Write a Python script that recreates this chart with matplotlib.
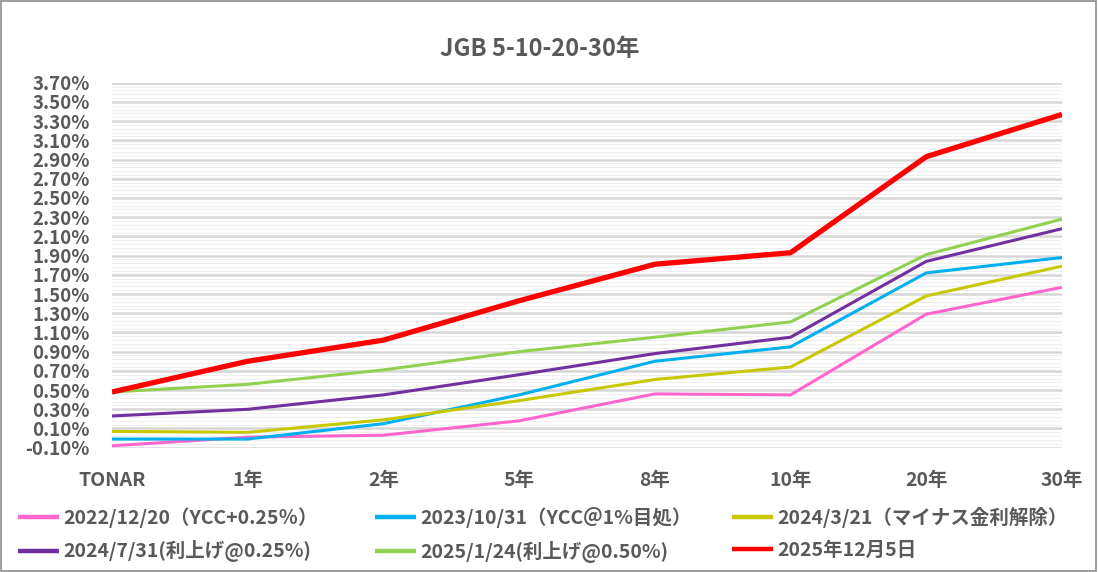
import matplotlib
matplotlib.use('Agg')
import matplotlib.pyplot as plt
from matplotlib.patches import Rectangle
from matplotlib.ticker import MultipleLocator, FuncFormatter
import numpy as np

plt.rcParams['font.family'] = ['Noto Sans CJK JP', 'DejaVu Sans']

# tenors and yields (%)
tenors = ['TONAR', '1年', '2年', '5年', '8年', '10年', '20年', '30年']

y_20221220 = [-0.08, 0.01, 0.03, 0.18, 0.46, 0.45, 1.29, 1.57]
y_20231031 = [-0.01, -0.01, 0.15, 0.45, 0.80, 0.95, 1.72, 1.88]
y_20240321 = [0.07, 0.06, 0.19, 0.39, 0.61, 0.74, 1.48, 1.79]
y_20240731 = [0.23, 0.30, 0.45, 0.66, 0.88, 1.05, 1.84, 2.18]
y_20250124 = [0.48, 0.56, 0.71, 0.90, 1.05, 1.21, 1.91, 2.28]
y_20251205 = [0.48, 0.80, 1.02, 1.43, 1.81, 1.93, 2.93, 3.37]

labels = ['2022/12/20（YCC+0.25％）', '2023/10/31（YCC＠1%目処）', '2024/3/21（マイナス金利解除）',
          '2024/7/31(利上げ@0.25%)', '2025/1/24(利上げ@0.50%)', '2025年12月5日']
colors = ['#ff66cc', '#00b0f0', '#c8c800', '#7030a0', '#92d050', '#ff0000']
widths = [2.2, 2.2, 2.2, 2.2, 2.2, 3.8]

grey = '#595959'

fig = plt.figure(figsize=(10.98, 5.72), dpi=100)
ax = fig.add_axes([112 / 1098, 1 - 447.7 / 572, 950 / 1098, 365 / 572])

x = np.arange(len(tenors))
series = [y_20221220, y_20231031, y_20240321, y_20240731, y_20250124, y_20251205]
lines = []
for s, c, w, l in zip(series, colors, widths, labels):
    ln, = ax.plot(x, s, color=c, lw=w, label=l, solid_capstyle='butt', zorder=3)
    lines.append(ln)

ax.set_xlim(0, len(tenors) - 1)
ax.set_ylim(-0.10, 3.70)
ax.yaxis.set_major_locator(MultipleLocator(0.2, offset=-0.1))
ax.yaxis.set_minor_locator(MultipleLocator(0.04, offset=-0.1))
ax.yaxis.set_major_formatter(FuncFormatter(lambda v, p: '%.2f%%' % v))
ax.grid(which='major', axis='y', color='#d6d6d6', lw=1.8)
ax.grid(which='minor', axis='y', color='#efefef', lw=0.8)
ax.set_axisbelow(True)

ax.set_xticks(x)
ax.set_xticklabels(tenors)
ax.tick_params(axis='both', which='both', length=0)
ax.tick_params(axis='y', pad=16, labelsize=13.5, labelcolor=grey)
ax.tick_params(axis='x', pad=17, labelsize=14, labelcolor=grey)
for t in ax.get_xticklabels() + ax.get_yticklabels():
    t.set_fontweight('bold')
for sp in ax.spines.values():
    sp.set_visible(False)

fig.text(540 / 1098, 1 - 49 / 572, 'JGB 5-10-20-30年', ha='center', va='center',
         fontsize=17, fontweight='bold', color=grey)

# legend: three columns, two rows
col_x = [18 / 1098, 375 / 1098, 732 / 1098]
for i, cx in enumerate(col_x):
    lg = fig.legend(handles=[lines[i], lines[i + 3]], loc='upper left',
                    bbox_to_anchor=(cx, 1 - 507 / 572), frameon=False,
                    prop={'size': 14, 'weight': 'bold'}, labelcolor=grey,
                    handlelength=2.1, handletextpad=0.25, labelspacing=0.65,
                    borderaxespad=0, borderpad=0)
    for h in lg.legend_handles:
        h.set_linewidth(3.2)

fig.patches.append(Rectangle((0.0005, 0.001), 0.998, 0.997, transform=fig.transFigure,
                             fill=False, edgecolor='#8c8c8c', lw=1.2))

fig.savefig('out.png', dpi=100)
